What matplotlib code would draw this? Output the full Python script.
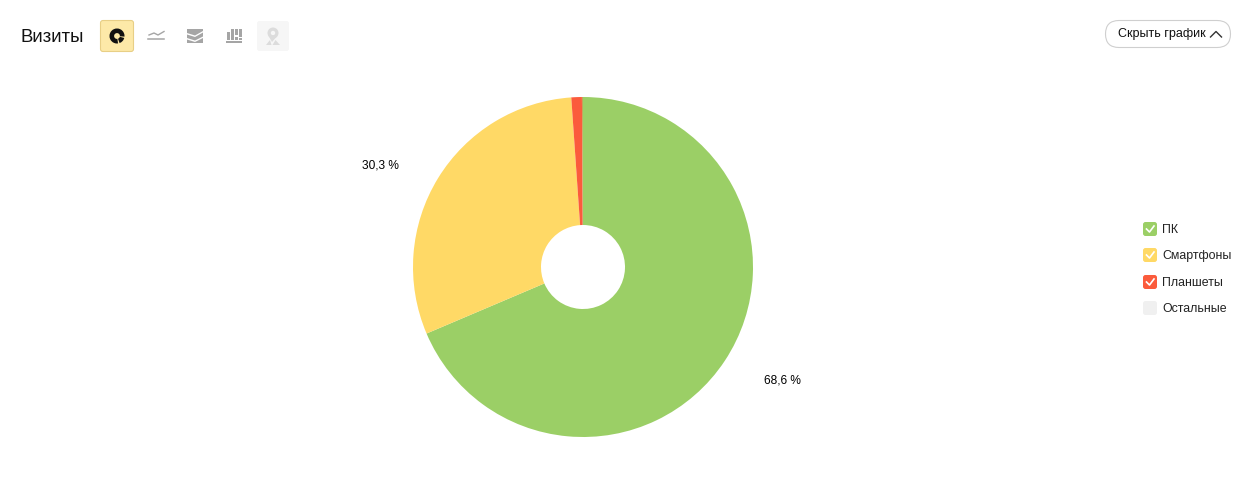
import matplotlib
matplotlib.use('Agg')
import matplotlib.pyplot as plt
from matplotlib.patches import FancyBboxPatch, Wedge, Circle, Polygon, Rectangle

# --- data ---
categories = ['ПК', 'Смартфоны', 'Планшеты', 'Остальные']
shares = [68.6, 30.3, 1.0, 0.1]
share_labels = ['68,6 %', '30,3 %']
colors = ['#9bcf66', '#ffd966', '#fb5b3c', '#f0f0f0']

plt.rcParams['font.family'] = ['Liberation Sans', 'DejaVu Sans']

W, H = 1238, 490
fig = plt.figure(figsize=(W / 100, H / 100), dpi=100, facecolor='white')

# pixel coordinate layer for the page controls
ui = fig.add_axes([0, 0, 1, 1])
ui.set_xlim(0, W)
ui.set_ylim(H, 0)
ui.axis('off')

# --- donut ---
cx, cy, r = 583, 267, 170
ax = fig.add_axes([(cx - r) / W, 1 - (cy + r) / H, 2 * r / W, 2 * r / H])
# the last sliver is about a pixel wide and blends with its neighbours
ax.pie(shares, colors=colors[:3] + ['#c4a25a'], startangle=90, counterclock=False, radius=1,
       wedgeprops={'width': 1 - 42 / 170, 'linewidth': 0})
ax.set_xlim(-1, 1)
ax.set_ylim(-1, 1)

ui.text(782, 380.5, share_labels[0], fontsize=8.6, ha='center', va='center', color='black')
ui.text(380, 165, share_labels[1], fontsize=8.6, ha='center', va='center', color='black')


def box(x, y, w, h, rad, fc, ec='none', lw=0.8):
    ui.add_patch(FancyBboxPatch((x + rad, y + rad), w - 2 * rad, h - 2 * rad,
                                boxstyle=f'round,pad={rad}', fc=fc, ec=ec, lw=lw))


# --- header ---
ui.text(21, 37, 'Визиты', fontsize=13.4, ha='left', va='center', color='#111111')

# pie button (active)
box(100.5, 20.5, 33, 31, 2.5, '#fde9a8', '#e8cf86')
ui.add_patch(Wedge((117, 36), 7.5, 0, 360, width=4.6, fc='#111111', ec='none'))
ui.add_patch(Wedge((117, 36), 9, 70, 82, fc='#fde9a8', ec='none'))
ui.add_patch(Wedge((117, 36), 9, 5, 15, fc='#fde9a8', ec='none'))

# line icon
grey = '#a5a5a5'
ui.plot([149, 154, 158, 164], [35, 33, 35, 31.5], color=grey, lw=1.0)
ui.plot([148, 164], [39.5, 39.5], color=grey, lw=1.1)

# area icon
ui.add_patch(Polygon([(187, 29), (203, 29), (203, 31), (195, 35.5), (187, 33)], fc=grey))
ui.add_patch(Polygon([(187, 34.5), (195, 37), (203, 32.5), (203, 36.5), (195, 40.5), (187, 38)], fc=grey))
ui.add_patch(Polygon([(187, 39.5), (195, 42), (203, 38), (203, 43), (187, 43)], fc=grey))

# column icon
for bx, by, bh in [(227, 32, 8), (231, 29, 11), (235, 29, 6.5), (235, 37, 3), (239, 29, 8), (239, 38, 2)]:
    ui.add_patch(Rectangle((bx, by), 3.2, bh, fc=grey))
ui.add_patch(Rectangle((226, 41.2), 16, 1.8, fc=grey))

# map button (disabled)
box(257, 21, 32, 30, 2.5, '#f6f6f6')
pin = '#dcdcdc'
ui.add_patch(Circle((273, 33), 5.5, fc=pin))
ui.add_patch(Circle((273, 33), 2.2, fc='#f6f6f6'))
ui.add_patch(Polygon([(268.3, 35.5), (277.7, 35.5), (272, 42)], fc=pin))
ui.add_patch(Polygon([(266, 45), (270, 40), (271.5, 45)], fc=pin))
ui.add_patch(Polygon([(272.5, 45), (275.5, 40), (280, 45)], fc=pin))

# hide chart button
box(1105.5, 20.5, 125, 27, 13.5, 'white', '#cfcfcf')
ui.text(1118, 34.5, 'Скрыть график', fontsize=9, ha='left', va='center', color='#111111')
ui.plot([1210.5, 1216, 1221.5], [37, 31.5, 37], color='#333333', lw=1)

# --- legend ---
legend_y = [229, 255, 282, 308]
for name, color, y in zip(categories, colors, legend_y):
    box(1143, y - 7, 14, 14, 2.5, color)
    if name != 'Остальные':
        ui.plot([1146.5, 1149.5, 1154], [y, y + 3, y - 3], color='white', lw=1.2)
    ui.text(1162, y + 1, name, fontsize=8.9, ha='left', va='center', color='#222222')

fig.savefig('out.png', dpi=100, facecolor='white')
